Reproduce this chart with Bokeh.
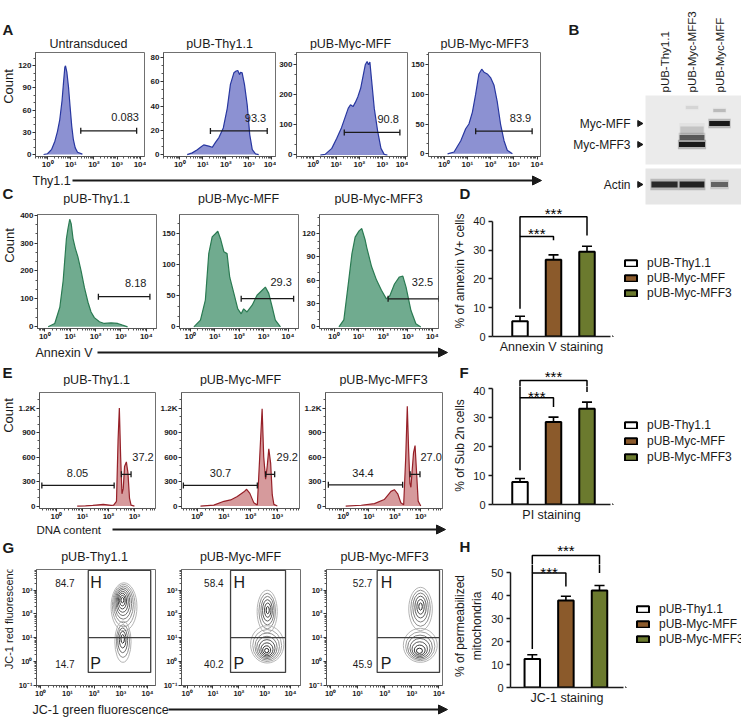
import numpy as np
from bokeh.plotting import figure
from bokeh.models import Range1d, FixedTicker, Label, Arrow, NormalHead, Legend, LegendItem
from bokeh.layouts import row, column
from bokeh.embed import file_html
from bokeh.resources import INLINE
from bokeh.core.properties import value

# ------------------------------------------------------------------ data
GROUPS = ["pUB-Thy1.1", "pUB-Myc-MFF", "pUB-Myc-MFF3"]
GROUP_COLORS = ["#ffffff", "#8b5a2b", "#6b7a2e"]

# A: Thy1.1 histograms (x = log10 fluorescence, y = count)
A_TITLES = ["Untransduced", "pUB-Thy1.1", "pUB-Myc-MFF", "pUB-Myc-MFF3"]
A1_logx = [-0.18, -0.01, 0.17, 0.31, 0.42, 0.52, 0.62, 0.69, 0.74, 0.77, 0.83, 0.90, 0.97, 1.04, 1.11, 1.19, 1.29, 1.50]
A1_count = [0, 1, 7, 18, 31, 47, 73, 100, 118, 120, 111, 91, 64, 38, 20, 9, 3, 0.5]
A2_logx = [0.32, 0.54, 0.76, 0.90, 1.04, 1.26, 1.41, 1.55, 1.70, 1.89, 2.06, 2.20, 2.35, 2.45, 2.52, 2.60, 2.64, 2.71, 2.81, 2.93, 3.04, 3.15, 3.29, 3.43]
A2_count = [0, 1.4, 4, 6, 8, 7, 6, 10, 14, 22, 38, 58, 67.5, 69, 69.4, 66, 68, 67.5, 58, 41, 16.5, 4, 0.5, 0]
A3_logx = [0.31, 0.52, 0.81, 1.02, 1.23, 1.37, 1.52, 1.62, 1.73, 1.83, 1.94, 2.06, 2.16, 2.26, 2.34, 2.40, 2.46, 2.54, 2.65, 2.80, 2.94, 3.08, 3.22]
A3_count = [0, 2, 22, 55, 91, 122, 155, 167, 161, 175, 194, 222, 261, 300, 311, 300, 309, 244, 155, 78, 22, 2, 0]
A4_logx = [0.15, 0.43, 0.72, 0.93, 1.07, 1.22, 1.36, 1.50, 1.62, 1.72, 1.86, 2.00, 2.15, 2.29, 2.43, 2.58, 2.72, 2.94]
A4_count = [0, 3, 22, 42, 50, 70, 100, 134, 142, 137, 134, 128, 115, 87, 50, 22, 6, 0]
A_GATES = [(1.43, 3.85, 32), (1.33, 3.80, 19.5), (1.35, 3.76, 75), (1.36, 3.79, 38)]
A_PCT = ["0.083", "93.3", "90.8", "83.9"]
A_PCT_AT = [(3.35, 51), (3.29, 30), (3.25, 120), (3.29, 60)]

# C: Annexin V histograms
SAMPLE_TITLES = ["pUB-Thy1.1", "pUB-Myc-MFF", "pUB-Myc-MFF3"]
C1_logx = [0.13, 0.39, 0.59, 0.72, 0.85, 0.91, 0.98, 1.04, 1.11, 1.20, 1.30, 1.43, 1.56, 1.70, 1.82, 1.95, 2.15, 2.34, 2.61, 2.87, 3.06, 3.26]
C1_count = [0, 12, 70, 164, 316, 351, 385, 368, 316, 281, 251, 199, 140, 88, 53, 33, 18, 12, 14, 12, 6, 0]
C2_logx = [0.14, 0.41, 0.61, 0.75, 0.89, 1.02, 1.12, 1.23, 1.37, 1.50, 1.61, 1.78, 1.94, 2.08, 2.18, 2.32, 2.53, 2.73, 2.94, 3.07, 3.21, 3.35, 3.48, 3.69]
C2_count = [0, 11, 43, 118, 145, 150, 154, 142, 121, 118, 80, 54, 29, 21, 29, 24, 35, 51, 59, 64, 54, 32, 11, 0]
C3_logx = [0.20, 0.40, 0.60, 0.73, 0.86, 1.02, 1.13, 1.27, 1.33, 1.53, 1.73, 1.93, 2.13, 2.27, 2.46, 2.66, 2.80, 2.93, 3.13, 3.33, 3.53]
C3_count = [0, 9, 60, 94, 115, 123, 126, 111, 102, 77, 60, 47, 36, 40, 55, 64, 65, 51, 21, 4, 0]
C_GATES = [(2.11, 4.14, 108), (2.08, 4.23, 45.5), (2.20, 4.26, 36)]
C_PCT = ["8.18", "29.3", "32.5"]
C_PCT_AT = [(3.58, 158), (3.72, 72), (3.60, 57)]

# E: DNA content histograms
E1_logx = [0.80, 1.12, 1.40, 1.62, 1.80, 1.95, 2.10, 2.20, 2.31, 2.37, 2.42, 2.47, 2.52, 2.57, 2.62, 2.69, 2.75, 2.81, 2.87, 3.00]
E1_count = [0, 3, 8, 15, 20, 15, 8, 12, 58, 800, 1200, 600, 150, 213, 484, 540, 406, 98, 12, 0]
E2_logx = [0.12, 0.62, 1.00, 1.25, 1.50, 1.75, 1.85, 1.97, 2.12, 2.25, 2.37, 2.43, 2.49, 2.56, 2.62, 2.68, 2.75, 2.81, 2.87, 3.00]
E2_count = [0, 12, 58, 75, 116, 174, 205, 155, 39, 12, 800, 1190, 600, 330, 484, 700, 522, 136, 20, 0]
E3_logx = [0.10, 0.70, 1.21, 1.59, 1.85, 1.98, 2.11, 2.23, 2.34, 2.42, 2.48, 2.53, 2.58, 2.62, 2.66, 2.72, 2.78, 2.84, 2.90, 3.00]
E3_count = [0, 10, 30, 80, 180, 200, 150, 40, 15, 600, 1220, 700, 280, 230, 400, 650, 740, 400, 60, 0]
E_GATES_SUB = [(-0.56, 2.22, 252), (-0.52, 2.25, 252), (-0.57, 2.30, 260)]
E_GATES_G2 = [(2.50, 2.87, 388), (2.56, 2.90, 388), (2.59, 2.97, 388)]
E_PCT_SUB = ["8.05", "30.7", "34.4"]
E_PCT_G2 = ["37.2", "29.2", "27.0"]
E_PCT_SUB_AT = [(0.81, 400), (0.87, 400), (0.77, 400)]
E_PCT_G2_AT = [(3.33, 600), (3.37, 600), (3.40, 600)]

# G: JC-1 contour levels (log10 green, log10 red, width, height in decades)
G1_UP = [(3.12, 2.30, 0.97, 2.02), (3.11, 2.35, 0.85, 1.78), (3.10, 2.40, 0.74, 1.55), (3.09, 2.44, 0.63, 1.32),
         (3.08, 2.48, 0.52, 1.10), (3.07, 2.51, 0.42, 0.88), (3.06, 2.54, 0.31, 0.66), (3.06, 2.56, 0.21, 0.44), (3.06, 2.58, 0.11, 0.22)]
G1_LO = [(3.08, 0.83, 0.61, 1.73), (3.08, 0.86, 0.49, 1.38), (3.07, 0.89, 0.37, 1.04), (3.07, 0.92, 0.25, 0.70), (3.07, 0.95, 0.13, 0.36)]
G2_UP = [(3.10, 2.10, 0.78, 1.80), (3.10, 2.12, 0.64, 1.50), (3.11, 2.14, 0.51, 1.20), (3.11, 2.15, 0.38, 0.90), (3.12, 2.16, 0.25, 0.60), (3.12, 2.16, 0.12, 0.30)]
G2_LO = [(3.10, 0.72, 1.29, 1.57), (3.10, 0.67, 1.12, 1.35), (3.10, 0.63, 0.95, 1.14), (3.09, 0.59, 0.79, 0.94),
         (3.09, 0.55, 0.63, 0.74), (3.09, 0.51, 0.47, 0.55), (3.08, 0.48, 0.31, 0.36), (3.08, 0.46, 0.16, 0.18)]
G3_UP = [(3.32, 2.21, 0.87, 1.82), (3.32, 2.24, 0.72, 1.52), (3.32, 2.27, 0.57, 1.22), (3.32, 2.29, 0.42, 0.92), (3.32, 2.30, 0.27, 0.62), (3.32, 2.31, 0.13, 0.30)]
G3_LO = [(3.31, 0.68, 1.25, 1.43), (3.31, 0.64, 1.08, 1.22), (3.30, 0.60, 0.91, 1.02), (3.30, 0.56, 0.74, 0.82),
         (3.29, 0.52, 0.57, 0.62), (3.29, 0.48, 0.40, 0.42), (3.28, 0.45, 0.22, 0.22)]
G_HI_PCT = ["84.7", "58.4", "52.7"]
G_LO_PCT = ["14.7", "40.2", "45.9"]
G_BOX_X = [(1.78, 4.12), (1.68, 3.81), (1.72, 4.02)]
G_BOX_Y = (-0.46, 1.0, 3.83)          # bottom, divider, top
G_NUM_X = [1.27, 1.41, 1.54]
G_LET_X = [1.85, 1.79, 1.85]
G_LAB_Y = (3.31, -0.10)

# B: western blot bands (lane, migration, width, thickness, intensity)
B_LANES = ["pUB-Thy1.1", "pUB-Myc-MFF3", "pUB-Myc-MFF"]
B_MARKERS = ["Myc-MFF", "Myc-MFF3", "Actin"]
B_MARKER_POS = [81, 60, 20]
B_BAND_LANE = [2, 2, 2, 2, 3, 3, 1, 2, 3]
B_BAND_POS = [60, 67, 74, 97, 81, 94, 20, 20, 20]
B_BAND_W = [0.95, 0.90, 0.85, 0.45, 0.75, 0.45, 0.95, 0.90, 0.62]
B_BAND_H = [5, 5, 8, 3, 5, 3, 6, 6, 5]
B_BAND_INT = [0.95, 0.60, 0.15, 0.08, 0.95, 0.18, 0.85, 0.90, 0.55]
B_MEMBRANES = [(40, 109), (0, 36)]

# D/F/H: bar charts
D_VALS = [5.3, 26.6, 29.4]
D_ERR = [1.7, 1.7, 1.9]
F_VALS = [7.8, 28.5, 33.1]
F_ERR = [1.2, 1.7, 2.3]
H_VALS = [12.4, 37.9, 42.3]
H_ERR = [1.9, 1.9, 2.2]
# left-leg bottom, lower bracket y, lower right-leg bottom, upper bracket y, upper right-leg bottom, star y lower/upper
D_BRACKETS = (9.6, 34.7, 33.4, 41.5, 35.0, 37.0, 44.0)
F_BRACKETS = (11.8, 36.9, 33.7, 42.9, 38.9, 38.8, 45.7)
H_BRACKETS = (16.8, 49.9, 44.0, 57.6, 49.9, 52.0, 61.5)

# ------------------------------------------------------------------ helpers
FONT = "Liberation Sans"
INK = "#1a1a1a"
SUPS = {-1: "10\u207b\u00b9", 0: "10\u2070", 1: "10\u00b9", 2: "10\u00b2", 3: "10\u00b3", 4: "10\u2074"}
GRAYS = ["#b4b4b4", "#a2a2a2", "#909090", "#7e7e7e", "#6c6c6c", "#5a5a5a", "#484848", "#363636", "#242424"]


def s(v):
    return int(round(v))


def make_fig(cell, frame, **kw):
    cx0, cy0, cx1, cy1 = cell
    fx0, fy0, fx1, fy1 = frame
    p = figure(width=s(cx1) - s(cx0), height=s(cy1) - s(cy0),
               min_border_left=s(fx0) - s(cx0), min_border_right=s(cx1) - s(fx1),
               min_border_top=s(fy0) - s(cy0), min_border_bottom=s(cy1) - s(fy1),
               toolbar_location=None, output_backend="svg", **kw)
    p.grid.visible = False
    p.outline_line_color = None
    p.background_fill_color = "white"
    p.border_fill_color = "white"
    return p


def deco(cell, **kw):
    kw.setdefault("x_range", Range1d(0, 1))
    kw.setdefault("y_range", Range1d(0, 1))
    return make_fig(cell, cell, x_axis_location=None, y_axis_location=None, **kw)


def note(p, frame, rx, ry, text, size="12.5px", align="center", style="normal", angle=0.0, color=INK, font=FONT):
    p.add_layout(Label(x=s(rx) - s(frame[0]), y=s(frame[3]) - s(ry), x_units="screen", y_units="screen",
                       text=text, text_align=align, text_baseline="middle", text_font=font,
                       text_font_size=size, text_font_style=style, text_color=color, angle=angle))


def letter(p, cell, rx, ry, t):
    note(p, cell, rx, ry, t, size="15px", style="bold", align="left")


def axis_arrow(p, cell, label, label_x, x0, x1, y, size="12.5px"):
    note(p, cell, label_x, y, label, size=size, align="left")
    yy = s(cell[3]) - s(y)
    p.add_layout(Arrow(end=NormalHead(size=9, fill_color=INK, line_color=INK, line_width=1),
                       x_start=s(x0) - s(cell[0]), y_start=yy, x_end=s(x1) - s(cell[0]), y_end=yy,
                       start_units="screen", end_units="screen", line_color=INK, line_width=2))


def flow_axes(p, xt, xminor, xover, yt, yminor, yover=None, fsize="8px"):
    p.outline_line_color = "#707070"
    for ax in (p.xaxis[0], p.yaxis[0]):
        ax.axis_line_color = "#555555"
        ax.major_tick_line_color = "#333333"
        ax.minor_tick_line_color = "#555555"
        ax.major_tick_out = 3
        ax.major_tick_in = 0
        ax.minor_tick_out = 2
        ax.minor_tick_in = 0
        ax.major_label_standoff = 1
        ax.major_label_text_font = FONT
        ax.major_label_text_font_size = fsize
        ax.major_label_text_font_style = "bold"
        ax.major_label_text_color = INK
    p.xaxis[0].major_label_standoff = 0
    p.xaxis[0].ticker = FixedTicker(ticks=xt, minor_ticks=xminor)
    p.xaxis[0].major_label_overrides = xover
    p.yaxis[0].ticker = FixedTicker(ticks=yt, minor_ticks=yminor)
    if yover:
        p.yaxis[0].major_label_overrides = yover


def hist_panel(cell, frame, xr, yr, ystep, logx, counts, colors, gates, pcts, pct_at, yover=None):
    p = make_fig(cell, frame, x_axis_type="log",
                 x_range=Range1d(10 ** xr[0], 10 ** xr[1]), y_range=Range1d(*yr))
    decades = [1, 10, 100, 1000, 10000]
    xminor = [m * 10.0 ** d for d in range(-1, 5) for m in range(2, 10)]
    ymajor = list(range(0, int(yr[1]) + 1, ystep))
    yminor = [k * ystep / 3 for k in range(int(yr[1] * 3 / ystep) + 1) if k % 3]
    flow_axes(p, decades, xminor, {d: SUPS[i] for i, d in enumerate(decades)}, ymajor, yminor, yover)
    xs = [10.0 ** v for v in logx]
    p.varea(x=xs, y1=[0] * len(xs), y2=counts, fill_color=colors[0])
    p.line(x=xs, y=counts, line_color=colors[1], line_width=1.2)
    for (lo, hi, gy), pct, (lx, ly) in zip(gates, pcts, pct_at):
        p.segment(x0=[10 ** lo], y0=[gy], x1=[10 ** hi], y1=[gy], line_color=INK, line_width=1.3)
        p.scatter(x=[10 ** lo, 10 ** hi], y=[gy, gy], marker="dash", angle=np.pi / 2, size=6,
                  line_color=INK, line_width=1.3)
        p.text(x=[10 ** lx], y=[ly], text=[pct], text_font=value(FONT), text_font_size=value("11px"),
               text_align="center", text_baseline="middle", text_color=INK)
    return p


def contour_panel(cell, frame, xr, clusters, box_x, hi, lo, num_x, let_x):
    p = make_fig(cell, frame, x_range=Range1d(*xr), y_range=Range1d(-1.01, 3.87))
    xt = [0, 1, 2, 3, 4]
    yt = [-1, 0, 1, 2, 3]
    minor = [d + float(np.log10(m)) for d in range(-2, 5) for m in range(2, 10)]
    flow_axes(p, xt, minor, {d: SUPS[d] for d in xt}, yt, minor, {d: SUPS[d] for d in yt}, fsize="7.5px")
    for cl in clusters:
        n = len(cl)
        cols = [GRAYS[int(round(i * (len(GRAYS) - 1) / (n - 1)))] for i in range(n)]
        p.ellipse(x=[c[0] for c in cl], y=[c[1] for c in cl], width=[c[2] for c in cl],
                  height=[c[3] for c in cl], fill_color=None, line_color=cols, line_width=1.0)
    bl, br = box_x
    p.quad(left=[bl], right=[br], bottom=[G_BOX_Y[0]], top=[G_BOX_Y[2]], fill_color=None,
           line_color="#404040", line_width=1.3)
    p.segment(x0=[bl], y0=[G_BOX_Y[1]], x1=[br], y1=[G_BOX_Y[1]], line_color="#404040", line_width=1.3)
    p.text(x=[num_x, num_x], y=list(G_LAB_Y), text=[hi, lo], text_align="right", text_baseline="middle",
           text_font=value(FONT), text_font_size=value("10px"), text_color=INK)
    p.text(x=[let_x, let_x], y=list(G_LAB_Y), text=["H", "P"], text_align="left", text_baseline="middle",
           text_font=value(FONT), text_font_size=value("16px"), text_color=INK)
    return p


def side_label(cell, text, rx, ry, size="13px"):
    p = deco(cell)
    note(p, cell, rx, ry, text, size=size, angle=np.pi / 2)
    return p


def titles(p, cell, names, frames, y):
    for t, f in zip(names, frames):
        note(p, cell, (f[0] + f[2]) / 2, y, t, size="12.5px")


def bar_xr(centers, left_px, right_px):
    sp = (centers[2] - centers[0]) / 2
    return (1 - (centers[0] - left_px) / sp, 1 + (right_px - centers[0]) / sp)


def draw_sig(p, br, stars=(True, True)):
    lb, ly, lrb, uy, urb, sl, su = br
    p.multi_line(xs=[[1, 1, 2, 2], [1, 1, 3, 3]], ys=[[lb, ly, ly, lrb], [ly, uy, uy, urb]],
                 line_color="black", line_width=1.5)
    sx = [x for x, k in zip([1.5, 2.0], stars) if k]
    sy = [y for y, k in zip([sl, su], stars) if k]
    p.text(x=sx, y=sy, text=["***"] * len(sx), text_align="center", text_baseline="middle",
           y_offset=4, text_font=value(FONT), text_font_size=value("15px"), text_color="black")


def bar_panel(cell, axis_x, base_y, ppu, centers, vals, errs, ymax, br, stars, ylabel, ylab_std, xlabel):
    cx0, cy0, cx1, cy1 = cell
    frame = (axis_x, cy0, cx1 - 2, base_y)
    sp = (centers[2] - centers[0]) / 2
    p = make_fig(cell, frame, x_range=Range1d(*bar_xr(centers, axis_x, cx1 - 2)),
                 y_range=Range1d(0, (base_y - cy0) / ppu))
    ya, xa = p.yaxis[0], p.xaxis[0]
    ya.bounds = (0, ymax)
    ya.ticker = FixedTicker(ticks=list(range(0, ymax + 1, 10)))
    xa.ticker = FixedTicker(ticks=[])
    for ax in (xa, ya):
        ax.axis_line_width = 1.5
        ax.axis_line_color = INK
        ax.major_tick_line_width = 1.5
        ax.major_tick_line_color = INK
        ax.major_tick_in = 0
        ax.minor_tick_out = 0
        ax.minor_tick_in = 0
        ax.major_label_standoff = 3
        ax.major_label_text_font = FONT
        ax.major_label_text_font_size = "11px"
        ax.major_label_text_color = INK
        ax.axis_label_text_font = FONT
        ax.axis_label_text_font_style = "normal"
        ax.axis_label_text_color = INK
    ya.major_tick_out = 4
    xa.major_tick_out = 0
    ya.axis_label = ylabel
    ya.axis_label_standoff = ylab_std
    ya.axis_label_text_font_size = "12px"
    xa.axis_label = xlabel
    xa.axis_label_standoff = 3
    xa.axis_label_text_font_size = "12.5px"
    xs = [1, 2, 3]
    bw = 15.5 / sp
    for i in range(3):
        p.vbar(x=[xs[i]], top=[vals[i]], width=bw, fill_color=GROUP_COLORS[i], line_color="black", line_width=2)
    tops = [v + e for v, e in zip(vals, errs)]
    p.segment(x0=xs, y0=vals, x1=xs, y1=tops, line_color="black", line_width=1.6)
    p.segment(x0=[x - 0.15 for x in xs], y0=tops, x1=[x + 0.15 for x in xs], y1=tops,
              line_color="black", line_width=1.6)
    draw_sig(p, br, stars)
    return p


def legend_fig(cell, gx, loc_y, spacing):
    p = deco(cell)
    # legend swatches only: the glyphs sit outside the visible range
    rends = [p.vbar(x=[-5], bottom=[-5], top=[-4], width=0.5, fill_color=c, line_color="black", line_width=2)
             for c in GROUP_COLORS]
    legend = Legend(items=[LegendItem(label=g, renderers=[r]) for g, r in zip(GROUPS, rends)],
                    location=(s(gx) - s(cell[0]), loc_y),
                    glyph_width=15, glyph_height=8, label_standoff=9, spacing=spacing,
                    padding=0, margin=0, border_line_color=None, background_fill_alpha=0,
                    label_text_font=FONT, label_text_font_size="12px", label_height=12,
                    label_text_color=INK)
    p.add_layout(legend)
    return p


LANE_PX, LANE0, BLOT_BASE, BLOT_LEFT = 27.5, 664, 204, 645
CENTERS_DF = (519.5, 553, 586.5)
CENTERS_H = (531.8, 565.5, 599)

# ------------------------------------------------------------------ row 1: A + B  (y 0-205)
A_CELLS = [(15, 50, 146, 173), (146, 50, 276, 173), (276, 50, 408, 173), (408, 50, 553, 173)]
A_FRAMES = [(32, 52, 144, 156), (163, 52, 275, 156), (294, 52, 407, 156), (428, 52, 540, 156)]
A_XR = [(-0.53, 4.19), (-0.71, 4.16), (-0.72, 4.09), (-0.67, 4.15)]
A_YR = [(-2.7, 138), (-1.6, 84.3), (-5, 341), (-4.5, 170)]
A_STEP = [30, 20, 100, 50]
A_DATA = [(A1_logx, A1_count), (A2_logx, A2_count), (A3_logx, A3_count), (A4_logx, A4_count)]
A_COL = ("#8c91d2", "#2837a0")
a_figs = [hist_panel(A_CELLS[i], A_FRAMES[i], A_XR[i], A_YR[i], A_STEP[i], A_DATA[i][0], A_DATA[i][1],
                     A_COL, [A_GATES[i]], [A_PCT[i]], [A_PCT_AT[i]]) for i in range(4)]

C_FRAMES = [(36, 214, 156, 328), (179, 214, 298, 328), (317, 214, 438, 328)]

topA_cell = (0, 0, 553, 50)
topA = deco(topA_cell)
letter(topA, topA_cell, 2, 29, "A")
titles(topA, topA_cell, A_TITLES, A_FRAMES, 43)

midA_cell = (0, 173, 553, 205)
midA = deco(midA_cell)
axis_arrow(midA, midA_cell, "Thy1.1", 32, 72, 541, 179.5)
letter(midA, midA_cell, 2, 193, "C")
letter(midA, midA_cell, 459, 193, "D")
titles(midA, midA_cell, SAMPLE_TITLES, C_FRAMES, 198)

blockA = column(topA, row(side_label((0, 50, 15, 173), "Count", 8, 103), *a_figs), midA)

cellB = (553, 0, 741, 205)
pB = deco(cellB, x_range=Range1d(1 - (LANE0 - cellB[0]) / LANE_PX, 1 + (cellB[2] - LANE0) / LANE_PX),
          y_range=Range1d(BLOT_BASE - cellB[3], BLOT_BASE - cellB[1]))
mx0 = 1 - (LANE0 - BLOT_LEFT) / LANE_PX
mx1 = 1 + (cellB[2] - LANE0) / LANE_PX
pB.quad(left=[mx0] * 2, right=[mx1] * 2, bottom=[m[0] for m in B_MEMBRANES], top=[m[1] for m in B_MEMBRANES],
        fill_color=["#ebebeb", "#e6e6e6"], line_color=None)
pB.rect(x=B_BAND_LANE, y=B_BAND_POS, width=[w * 1.08 for w in B_BAND_W], height=[h * 1.9 for h in B_BAND_H],
        fill_color="#111111", fill_alpha=[a * 0.25 for a in B_BAND_INT], line_color=None)
pB.rect(x=B_BAND_LANE, y=B_BAND_POS, width=B_BAND_W, height=B_BAND_H,
        fill_color="#111111", fill_alpha=B_BAND_INT, line_color=None)
pB.text(x=[1, 2, 3], y=[112] * 3, text=B_LANES, angle=np.pi / 2, text_align="left", text_baseline="middle",
        text_font=value(FONT), text_font_size=value("11.5px"), text_color=INK)
pB.text(x=[1 + (630 - LANE0) / LANE_PX] * 3, y=B_MARKER_POS, text=B_MARKERS, text_align="right",
        text_baseline="middle", text_font=value(FONT), text_font_size=value("12px"), text_color=INK)
pB.scatter(x=[1 + (639 - LANE0) / LANE_PX] * 3, y=B_MARKER_POS, marker="triangle", angle=-np.pi / 2, size=6,
           fill_color=INK, line_color=INK)
letter(pB, cellB, 568, 29, "B")
row1 = row(blockA, pB)

# ------------------------------------------------------------------ row 2: C + D  (y 205-360)
C_CELLS = [(17, 205, 158, 345), (158, 205, 299, 345), (299, 205, 450, 345)]
C_XR = [(-0.29, 4.40), (-0.45, 4.43), (-0.59, 4.25)]
C_YR = [(-6, 402), (-2.6, 181), (-2, 144)]
C_STEP = [100, 50, 30]
C_DATA = [(C1_logx, C1_count), (C2_logx, C2_count), (C3_logx, C3_count)]
C_COL = ("#70ab8f", "#2a7a52")
c_figs = [hist_panel(C_CELLS[i], C_FRAMES[i], C_XR[i], C_YR[i], C_STEP[i], C_DATA[i][0], C_DATA[i][1],
                     C_COL, [C_GATES[i]], [C_PCT[i]], [C_PCT_AT[i]]) for i in range(3)]
botC_cell = (0, 345, 450, 360)
botC = deco(botC_cell)
axis_arrow(botC, botC_cell, "Annexin V", 35, 97, 447, 352.5)
blockC = column(row(side_label((0, 205, 17, 345), "Count", 9, 262), *c_figs), botC)
pD = bar_panel((450, 205, 612, 360), 492, 336, 2.883, CENTERS_DF, D_VALS, D_ERR, 40, D_BRACKETS, (True, True),
               "% of annexin V+ cells", 3, "Annexin V staining")
legD = legend_fig((612, 205, 741, 360), 623, 36, 1)
row2 = row(blockC, pD, legD)

# ------------------------------------------------------------------ strip E/F  (y 360-386)
E_FRAMES = [(36, 392, 155, 511), (181, 392, 299, 511), (324, 392, 442, 511)]
ef_cell = (0, 360, 741, 386)
stripEF = deco(ef_cell, x_range=Range1d(*bar_xr(CENTERS_DF, 0, 741)),
               y_range=Range1d((504.3 - 386) / 2.9, (504.3 - 360) / 2.9))
draw_sig(stripEF, F_BRACKETS, (False, True))
letter(stripEF, ef_cell, 2, 372, "E")
letter(stripEF, ef_cell, 459, 372, "F")
titles(stripEF, ef_cell, SAMPLE_TITLES, E_FRAMES, 379)

# ------------------------------------------------------------------ row 3: E + F  (y 386-535)
E_CELLS = [(15, 386, 157, 523), (157, 386, 301, 523), (301, 386, 450, 523)]
E_XR = [(-0.65, 3.81), (-0.59, 3.83), (-0.68, 3.84)]
E_DATA = [(E1_logx, E1_count), (E2_logx, E2_count), (E3_logx, E3_count)]
E_COL = ("#d69a9c", "#962028")
e_figs = [hist_panel(E_CELLS[i], E_FRAMES[i], E_XR[i], (-30, 1390), 300, E_DATA[i][0], E_DATA[i][1], E_COL,
                     [E_GATES_SUB[i], E_GATES_G2[i]], [E_PCT_SUB[i], E_PCT_G2[i]],
                     [E_PCT_SUB_AT[i], E_PCT_G2_AT[i]], yover={1200: "1.2K"}) for i in range(3)]
botE_cell = (0, 523, 450, 535)
botE = deco(botE_cell)
axis_arrow(botE, botE_cell, "DNA content", 36, 112, 445, 529, size="11.5px")
blockE = column(row(side_label((0, 386, 15, 523), "Count", 8, 430), *e_figs), botE)
pF = bar_panel((450, 386, 612, 535), 492, 504.3, 2.9, CENTERS_DF, F_VALS, F_ERR, 40, F_BRACKETS, (True, False),
               "% of Sub 2n cells", 3, "PI staining")
legF = legend_fig((612, 386, 741, 535), 623, 40, 2)
row3 = row(blockE, pF, legF)

# ------------------------------------------------------------------ strip G/H  (y 535-564)
G_FRAMES = [(33, 569, 155, 685), (181, 569, 300, 685), (326, 569, 442, 685)]
gh_cell = (0, 535, 741, 564)
stripGH = deco(gh_cell, x_range=Range1d(*bar_xr(CENTERS_H, 0, 741)),
               y_range=Range1d((686.7 - 564) / 2.288, (686.7 - 535) / 2.288))
draw_sig(stripGH, H_BRACKETS, (False, True))
letter(stripGH, gh_cell, 2, 547, "G")
letter(stripGH, gh_cell, 459, 546, "H")
titles(stripGH, gh_cell, SAMPLE_TITLES, G_FRAMES, 556)

# ------------------------------------------------------------------ row 4: G + H  (y 564-718)
G_CELLS = [(15, 564, 157, 702), (157, 564, 302, 702), (302, 564, 450, 702)]
G_XR = [(-0.16, 4.30), (-0.22, 4.39), (-0.15, 4.13)]
G_CLUSTERS = [(G1_UP, G1_LO), (G2_UP, G2_LO), (G3_UP, G3_LO)]
g_figs = [contour_panel(G_CELLS[i], G_FRAMES[i], G_XR[i], G_CLUSTERS[i], G_BOX_X[i], G_HI_PCT[i], G_LO_PCT[i],
                        G_NUM_X[i], G_LET_X[i]) for i in range(3)]
botG_cell = (0, 702, 450, 718)
botG = deco(botG_cell)
axis_arrow(botG, botG_cell, "JC-1 green fluorescence", 32, 168, 447, 709)
blockG = column(row(side_label((0, 564, 15, 702), "JC-1 red fluorescence", 8, 632, size="11px"), *g_figs), botG)
pH = bar_panel((450, 564, 625, 718), 510, 686.7, 2.288, CENTERS_H, H_VALS, H_ERR, 50, H_BRACKETS, (True, False),
               "% of permeabilized\nmitochondria", 4, "JC-1 staining")
legH = legend_fig((625, 564, 741, 718), 635, 41, 1)
row4 = row(blockG, pH, legH)

page = column(row1, row2, stripEF, row3, stripGH, row4)
open("out.html", "w").write(file_html(page, INLINE, title="MFF figure"))
